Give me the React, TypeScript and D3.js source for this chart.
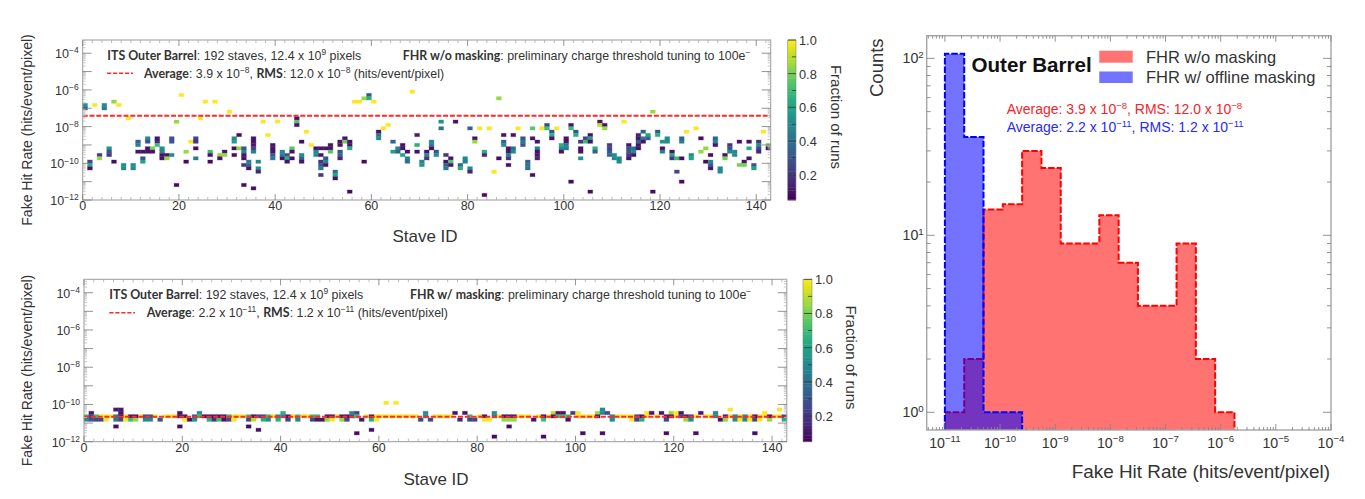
import * as d3 from "d3";
import { useEffect, useRef } from "react";

type Part = { t: string; bold?: boolean; sup?: boolean };
type Sel = d3.Selection<SVGGElement, unknown, null, undefined>;

// Fake hit rate map cells: [stave, rate bin, fraction of runs]
const unmaskedCells: [number, number, number][] = [
  [0,28,.55],[0,27,.3],[1,11,.25],[1,10,.65],[1,9,.1],[2,28,1],[3,13,.2],[3,12,.85],[4,28,.5],[4,27,.45],
  [5,15,.55],[5,14,.3],[5,13,.2],[6,29,.85],[6,11,.08],[7,28,1],[8,10,.5],[8,9,.5],[9,24,1],[10,10,.5],[10,9,.5],
  [11,17,.35],[11,16,.45],[11,14,.1],[12,14,.1],[12,12,.3],[12,11,.6],[13,18,.5],[13,17,.3],[13,15,.1],[13,14,.1],
  [14,15,.8],[14,14,.1],[15,18,.1],[15,17,.15],[15,16,.7],[16,15,.5],[16,14,.5],[16,13,.1],[16,12,.1],[17,13,.1],[17,12,.85],
  [18,18,.3],[18,17,.3],[18,13,.5],[19,23,.85],[19,4,.08],[20,31,1],[21,14,.85],[21,11,.08],[22,17,1],
  [23,18,.25],[23,17,.2],[23,15,.08],[23,12,.45],[24,24,1],[25,29,1],[26,14,.7],[26,13,.1],[26,11,.08],[27,29,1],
  [28,13,.85],[28,12,.1],[29,14,.1],[29,13,.85],[30,26,1],[31,18,.5],[31,17,.6],[31,15,.08],[31,13,.08],[32,19,.08],[32,15,.85],
  [33,15,.3],[33,14,.5],[33,13,.1],[33,12,.1],[33,10,.2],[33,4,.08],[34,11,.45],[34,10,.35],[34,9,.1],
  [35,18,.1],[35,17,.1],[35,16,.1],[35,15,.25],[35,14,.45],[35,3,.08],[36,11,.5],[36,9,.5],[36,8,.15],
  [37,23,1],[38,19,1],[39,16,.1],[39,15,.1],[39,14,.1],[39,13,.3],[39,12,.45],[40,23,1],[41,14,.5],[41,13,.45],[41,12,.1],
  [42,13,.3],[42,12,.65],[42,11,.1],[43,15,.75],[43,14,.1],[43,12,.1],[44,24,.1],[44,23,.75],[44,22,.1],
  [45,17,.08],[45,13,.5],[45,12,.35],[45,11,.1],[46,20,1],[47,16,1],[48,15,.1],[48,14,.5],[48,13,.5],
  [49,15,.1],[49,13,.1],[49,11,.2],[49,10,.3],[49,9,.45],[49,7,.2],[50,15,.1],[50,12,.3],[50,11,.5],[50,10,.1],
  [51,16,.1],[51,15,.1],[51,14,.75],[52,8,.4],[52,7,.6],[52,6,.1],[53,17,.1],[53,16,.1],[53,14,.3],[53,13,.35],[53,12,.15],
  [54,18,.1],[54,17,.8],[55,17,.1],[55,16,.1],[55,15,.65],[55,2,.08],[56,29,1],[57,29,1],[58,30,.85],[58,11,.08],
  [59,31,.3],[59,30,.65],[60,29,1],[61,20,.1],[61,19,.4],[61,18,.5],[62,21,1],[63,22,1],[64,17,.35],[64,14,.6],
  [65,15,.5],[65,14,.35],[66,16,.1],[66,15,.1],[66,13,.6],[67,14,.1],[67,12,.45],[67,11,.4],[68,32,1],
  [69,19,.12],[69,16,.65],[69,14,.1],[70,11,.5],[70,10,.55],[71,14,.1],[71,13,.5],[71,12,.2],[72,17,.5],[72,16,.45],[72,15,.1],
  [73,14,.3],[73,13,.5],[74,23,.55],[74,21,.4],[75,13,.2],[75,11,.1],[75,10,.35],[75,9,.45],[76,12,.1],[76,11,.75],[76,10,.1],
  [77,23,.1],[78,10,.35],[78,9,.65],[79,12,.5],[79,11,.45],[80,21,.35],[80,9,.5],[80,8,.15],[81,18,.1],[81,17,.85],
  [82,21,1],[83,14,.65],[83,13,.15],[83,1,.08],[84,21,1],[85,8,1],[86,30,.85],[86,12,.08],[87,19,.1],[87,17,.35],[87,16,.5],
  [88,15,.1],[88,14,.1],[88,13,.45],[88,12,.2],[88,10,.08],[89,19,.1],[89,15,.4],[89,14,.5],[90,21,1],
  [91,18,.3],[91,17,.45],[91,16,.3],[92,11,.35],[92,10,.4],[92,9,.4],[93,21,.75],[93,18,.1],[93,7,.08],
  [94,17,.1],[94,15,.45],[94,14,.1],[94,13,.1],[94,12,.15],[95,21,1],[96,22,.25],[96,21,.7],[97,20,.3],[97,19,.65],[97,18,.1],
  [98,21,1],[99,16,.65],[99,15,.5],[99,14,.1],[100,18,.1],[100,17,.1],[100,16,.45],[100,15,.45],[101,22,.1],[101,21,.7],[101,5,.08],
  [102,20,.3],[102,19,.65],[103,17,.2],[103,15,.1],[103,14,.1],[103,12,.55],[104,18,.25],[104,17,.7],
  [105,19,.1],[105,18,.6],[105,17,.1],[105,2,.08],[106,15,.65],[106,14,.35],[107,23,.1],[107,22,.9],[108,22,.1],[108,21,.85],
  [109,16,.2],[109,15,.25],[109,14,.3],[109,13,.35],[110,13,.5],[110,12,.5],[111,12,.5],[111,11,.5],[112,23,1],
  [113,16,.1],[113,15,.3],[113,14,.3],[113,13,.2],[113,12,.1],[114,15,.4],[114,14,.5],[114,13,.1],
  [115,19,.15],[115,18,.1],[115,17,.35],[115,16,.1],[115,15,.1],[116,20,.35],[116,18,.45],[116,17,.1],[117,19,.6],[117,18,.35],
  [118,26,.85],[118,2,.08],[119,20,.3],[119,19,.65],[120,17,.55],[120,15,.1],[120,14,.45],[121,18,.5],[121,17,.5],
  [122,14,.1],[122,13,.6],[122,12,.2],[123,12,.7],[123,8,.25],[124,18,.35],[124,17,.45],[124,12,.08],[124,5,.08],[125,20,1],
  [126,13,.5],[126,12,.6],[127,21,1],[128,18,.08],[128,14,.85],[129,15,.85],[129,11,.08],[130,13,.08],[130,11,.5],[130,10,.3],[130,9,.1],
  [131,18,.35],[131,17,.5],[131,16,.1],[132,9,.5],[132,8,.5],[133,13,.1],[133,12,.8],[134,16,.2],[134,15,.3],[134,14,.5],
  [135,14,.5],[135,13,.5],[136,17,.1],[136,10,.8],[137,11,.1],[137,10,.8],[138,17,.1],[138,15,.65],[138,12,.1],
  [139,10,.3],[139,9,.6],[140,17,.2],[140,16,.5],[140,15,.25],[140,14,.15],[141,20,1],[142,16,.8],[142,15,.1],
];

const maskedCells: [number, number, number][] = [
  [0,7,.7],[0,6,.5],[1,8,.1],[1,7,.25],[1,6,.3],[2,7,.7],[2,6,.25],[3,6,.25],[4,6,1],[6,9,.12],[6,7,.45],[6,6,.45],[6,4,.08],
  [7,9,.12],[7,8,.1],[7,7,.1],[7,6,.25],[8,6,1],[9,7,.1],[9,6,.7],[10,7,.1],[10,6,.85],[12,7,.3],[12,6,.5],[13,7,.3],[13,6,.5],[15,6,.3],
  [19,8,.1],[19,7,.1],[19,4,.08],[20,7,.1],[20,6,1],[21,6,.1],[22,7,.3],[22,6,.55],[23,8,.5],[23,7,.7],[24,7,.1],[25,7,.1],[25,6,.65],
  [26,7,.1],[26,6,.2],[27,7,.1],[27,6,.7],[28,7,.1],[28,6,.1],[29,7,.7],[29,6,.25],[30,6,1],[33,7,.7],[33,6,.25],[33,4,.08],
  [34,7,.1],[34,6,.9],[35,7,.25],[35,3,.08],[36,7,.25],[36,6,.65],[37,7,.7],[37,6,.5],[39,7,.5],[39,6,.65],[40,8,.65],[40,7,.5],
  [41,7,.1],[41,6,.25],[43,7,.7],[43,6,.5],[46,7,.7],[46,6,.25],[47,7,.7],[47,6,.1],[48,6,.1],[49,7,.1],[49,6,.85],[50,7,.1],[50,6,1],
  [52,7,.1],[52,6,.85],[53,7,.1],[53,6,.25],[54,8,.5],[54,7,.25],[55,8,.25],[55,7,.7],[55,2,.08],[56,6,.1],[58,7,.1],[58,6,.65],[58,3,.08],
  [59,6,1],[61,11,1],[63,11,1],[68,6,.25],[69,8,.5],[69,7,.5],[70,6,.25],[75,8,.1],[76,6,.15],[77,8,.1],[78,7,.7],[78,6,.25],[79,6,.25],
  [81,7,.1],[81,6,1],[82,6,1],[83,8,.5],[83,7,.45],[83,1,.08],[85,7,.1],[85,6,.85],[86,7,.1],[86,6,.85],[86,4,.08],[87,7,.1],[87,6,.85],
  [91,6,.1],[93,7,.1],[93,6,.7],[93,1,.08],[95,8,.9],[95,7,.1],[96,8,.1],[96,7,.7],[97,8,.1],[97,7,.7],[98,7,.7],[98,6,.1],[99,8,.2],
  [100,8,1],[101,2,.08],[104,8,.85],[104,7,.1],[105,9,.5],[105,8,.5],[105,2,.08],[106,8,.25],[107,7,.5],[107,6,.5],[111,6,1],
  [112,7,.25],[112,6,.25],[113,7,.1],[113,6,.65],[114,8,1],[115,8,.1],[117,8,.1],[118,7,.1],[118,6,.25],[118,2,.08],[119,8,.85],[119,7,.1],
  [120,8,1],[121,8,.1],[121,7,.25],[122,7,.1],[122,6,.85],[123,7,.25],[123,6,.5],[124,2,.08],[125,8,.1],[128,8,.5],[128,7,.5],
  [129,6,.1],[130,7,.1],[130,6,.85],[131,9,1],[132,7,.5],[132,6,.5],[133,6,1],[134,7,.5],[134,6,.5],[135,6,1],[136,7,.1],[136,6,.25],[136,2,.08],
  [137,6,1],[138,8,1],[139,7,.1],[139,6,.85],[141,9,1],[142,7,.25],[142,6,.65],
];

// staves sitting at full occupancy right on the average line
const maskedFullStaves = [3,4,5,8,11,14,16,17,18,30,31,32,38,42,44,45,51,57,59,60,61,62,63,64,65,66,67,71,72,73,74,80,84,88,89,90,92,94,100,101,102,103,108,109,110,111,114,116,120,124,126,127,131,133,135,137,138,140,141];

const stavesTicks = [0, 20, 40, 60, 80, 100, 120, 140];
const rateDecades = [-12, -10, -8, -6, -4];
const fractionTicks = [0.2, 0.4, 0.6, 0.8, 1.0];

// Histogram, log10 bins of 0.35 from 1e-11
const histStart = -11;
const histStep = 0.35;
const countsUnmasked = [1, 2, 14, 15, 30, 24, 9, 9, 13, 7, 4, 4, 9, 2, 1];
const countsMasked = [106, 36, 1, 1];
const histDecades = [-12, -11, -10, -9, -8, -7, -6, -5, -4];

const SANS = "'Liberation Sans', Arial, sans-serif";
const rowLog = 8.72 / 48;

function rich(g: Sel, x: number, y: number, parts: Part[], size: number, fill: string, anchor = "start") {
  const text = g.append("text").attr("x", x).attr("y", y).attr("font-family", SANS)
    .attr("font-size", size).attr("fill", fill).attr("text-anchor", anchor);
  let up = false;
  for (const p of parts) {
    const span = text.append("tspan").text(p.t);
    if (p.sup) {
      span.attr("dy", -size * 0.38).attr("font-size", size * 0.68);
      up = true;
    } else if (up) {
      span.attr("dy", size * 0.38);
      up = false;
    }
    if (p.bold) span.attr("font-family", "Lato").attr("font-weight", 700);
  }
}

interface PanelOpts {
  left: number; right: number; top: number; bottom: number;
  cells: [number, number, number][];
  average: number;
  line1a: Part[]; line1b: Part[]; line2: Part[];
  text1x: number; text1by: number; text1bx: number; dashX: [number, number]; dashY: number; text2x: number; text2y: number;
  barLeft: number; barRight: number; fracX: number; staveY: number; staveX: number;
}

function drawPanel(g: Sel, o: PanelOpts) {
  const color = d3.scaleSequential(d3.interpolateViridis).domain([0.05, 1]);
  const x = d3.scaleLinear().domain([0, 143]).range([o.left, o.right]);
  const y = d3.scaleLog().domain([1e-12, Math.pow(10, -3.28)]).range([o.bottom, o.top]);
  const rowY = (r: number) => y(Math.pow(10, -12 + r * rowLog));

  // faint same-colour edge: the original raster has a soft halo round every cell
  g.selectAll(".cell").data(o.cells).enter().append("rect")
    .attr("x", (d) => x(d[0])).attr("width", (d) => x(d[0] + 1) - x(d[0]))
    .attr("y", (d) => rowY(d[1] + 1)).attr("height", (d) => rowY(d[1]) - rowY(d[1] + 1))
    .attr("fill", (d) => color(d[2]))
    .attr("stroke", (d) => color(d[2])).attr("stroke-width", 0.9).attr("stroke-opacity", 0.35);

  // average
  g.append("line").attr("x1", o.left).attr("x2", o.right)
    .attr("y1", y(o.average)).attr("y2", y(o.average))
    .attr("stroke", "#ff2a2a").attr("stroke-width", 2).attr("stroke-dasharray", "5,1.8");

  // frame & ticks
  g.append("rect").attr("x", o.left).attr("y", o.top).attr("width", o.right - o.left).attr("height", o.bottom - o.top)
    .attr("fill", "none").attr("stroke", "#9a9a9a").attr("stroke-width", 1);
  const tick = (x1: number, y1: number, x2: number, y2: number, c: string) =>
    g.append("line").attr("x1", x1).attr("y1", y1).attr("x2", x2).attr("y2", y2).attr("stroke", c).attr("stroke-width", 0.8);
  for (let s = 0; s <= 142; s += 2) {
    const major = s % 20 === 0;
    const len = major ? 6 : 3;
    const c = major ? "#777" : "#aaa";
    tick(x(s), o.bottom, x(s), o.bottom - len, c);
    tick(x(s), o.top, x(s), o.top + len, c);
  }
  for (let e = -12; e <= -4; e++) {
    tick(o.left, y(Math.pow(10, e)), o.left + 9, y(Math.pow(10, e)), "#777");
    tick(o.right, y(Math.pow(10, e)), o.right - 9, y(Math.pow(10, e)), "#777");
    for (let m = 2; m <= 9; m++) {
      const v = m * Math.pow(10, e);
      if (v >= Math.pow(10, -3.28)) continue;
      tick(o.left, y(v), o.left + 3, y(v), "#bbb");
      tick(o.right, y(v), o.right - 3, y(v), "#bbb");
    }
  }
  for (const s of stavesTicks) {
    g.append("text").attr("x", x(s)).attr("y", o.bottom + 10).attr("text-anchor", "middle")
      .attr("font-family", SANS).attr("font-size", 12.5).attr("fill", "#333").text(s);
  }
  for (const e of rateDecades) {
    rich(g, o.left - 4, y(Math.pow(10, e)) + 5, [{ t: "10" }, { t: "\u2212" + Math.abs(e), sup: true }], 12.5, "#333", "end");
  }
  g.append("text").attr("x", o.staveX).attr("y", o.staveY).attr("text-anchor", "middle")
    .attr("font-family", SANS).attr("font-size", 17).attr("fill", "#333").text("Stave ID");
  g.append("text").attr("transform", `translate(32,${(o.top + o.bottom) / 2 + 10}) rotate(-90)`)
    .attr("text-anchor", "middle").attr("font-family", SANS).attr("font-size", 14).attr("fill", "#333")
    .text("Fake Hit Rate (hits/event/pixel)");

  // annotations
  rich(g, o.text1x, o.text1by, o.line1a, 12.4, "#333");
  rich(g, o.text1bx, o.text1by, o.line1b, 12.4, "#333");
  g.append("line").attr("x1", o.dashX[0]).attr("x2", o.dashX[1]).attr("y1", o.dashY).attr("y2", o.dashY)
    .attr("stroke", "#ff2a2a").attr("stroke-width", 1.5).attr("stroke-dasharray", "4.2,1.8");
  rich(g, o.text2x, o.text2y, o.line2, 12.4, "#333");

  // colour bar
  const bar = d3.scaleLinear().domain([0.05, 1]).range([o.bottom, o.top]);
  const steps = d3.range(0.05, 1, 0.95 / 50);
  g.selectAll(".band").data(steps).enter().append("rect")
    .attr("x", o.barLeft).attr("width", o.barRight - o.barLeft)
    .attr("y", (d) => bar(d + 0.95 / 50)).attr("height", (d) => bar(d) - bar(d + 0.95 / 50) + 0.4)
    .attr("fill", (d) => color(d + 0.95 / 100));
  g.append("rect").attr("x", o.barLeft).attr("y", o.top).attr("width", o.barRight - o.barLeft).attr("height", o.bottom - o.top)
    .attr("fill", "none").attr("stroke", "#888").attr("stroke-width", 0.6);
  for (const f of d3.range(0.1, 1.01, 0.1)) {
    tick(o.barRight, bar(f), o.barRight - (Math.round(f * 10) % 2 === 0 ? 8 : 4), bar(f), "#333");
  }
  for (const f of fractionTicks) {
    g.append("text").attr("x", o.barRight + 3).attr("y", bar(f) + 5).attr("font-family", SANS)
      .attr("font-size", 12.8).attr("fill", "#333").text(f.toFixed(1));
  }
  g.append("text").attr("transform", `translate(${o.fracX},${(o.top + o.bottom) / 2 - 3}) rotate(90)`)
    .attr("text-anchor", "middle").attr("font-family", SANS).attr("font-size", 15).attr("fill", "#333")
    .text("Fraction of runs");
}

function drawHistogram(g: Sel) {
  const left = 926.7, right = 1331, top = 35.7, bottom = 430;
  const x = d3.scaleLinear().domain([-11.33, -4]).range([left, right]);
  const y = d3.scaleLog().domain([Math.pow(10, -0.1), Math.pow(10, 2.128)]).range([bottom, top]);
  const line = d3.line();

  const outline = (counts: number[]) => {
    const pts: [number, number][] = [[x(histStart), bottom]];
    counts.forEach((c, i) => {
      pts.push([x(histStart + i * histStep), y(c)]);
      pts.push([x(histStart + (i + 1) * histStep), y(c)]);
    });
    pts.push([x(histStart + counts.length * histStep), bottom]);
    return line(pts) as string;
  };

  for (const [counts, c] of [[countsUnmasked, "#ff0000"], [countsMasked, "#0000ff"]] as [number[], string][]) {
    g.append("path").attr("d", outline(counts) + "Z").attr("fill", c).attr("fill-opacity", 0.55);
    g.append("path").attr("d", outline(counts)).attr("fill", "none").attr("stroke", c)
      .attr("stroke-width", 2).attr("stroke-dasharray", "6.5,2");
  }

  g.append("rect").attr("x", left).attr("y", top).attr("width", right - left).attr("height", bottom - top)
    .attr("fill", "none").attr("stroke", "#a6a6a6").attr("stroke-width", 1.4);
  const tick = (x1: number, y1: number, x2: number, y2: number) =>
    g.append("line").attr("x1", x1).attr("y1", y1).attr("x2", x2).attr("y2", y2).attr("stroke", "#888").attr("stroke-width", 0.9);
  for (const e of histDecades) {
    if (e >= -11) {
      tick(x(e), bottom, x(e), bottom - 6);
      tick(x(e), top, x(e), top + 6);
      rich(g, x(e), 447.5, [{ t: "10" }, { t: "\u2212" + Math.abs(e), sup: true }], 14.2, "#333", "middle");
    }
    if (e === -4) continue;
    for (let m = 2; m <= 9; m++) {
      const v = e + Math.log10(m);
      if (v < -11.33) continue;
      tick(x(v), bottom, x(v), bottom - 3);
      tick(x(v), top, x(v), top + 3);
    }
  }
  for (const e of [0, 1, 2]) {
    tick(left, y(Math.pow(10, e)), left + 8, y(Math.pow(10, e)));
    tick(right, y(Math.pow(10, e)), right - 8, y(Math.pow(10, e)));
    rich(g, left - 3, y(Math.pow(10, e)) + 5, [{ t: "10" }, { t: String(e), sup: true }], 14.2, "#333", "end");
    if (e === 2) continue;
    for (let m = 2; m <= 9; m++) {
      const v = m * Math.pow(10, e);
      tick(left, y(v), left + 4, y(v));
      tick(right, y(v), right - 4, y(v));
    }
  }

  g.append("text").attr("x", 1330).attr("y", 478).attr("text-anchor", "end").attr("font-family", SANS)
    .attr("font-size", 18.9).attr("fill", "#333").text("Fake Hit Rate (hits/event/pixel)");
  g.append("text").attr("transform", "translate(883,97) rotate(-90)").attr("font-family", SANS)
    .attr("font-size", 18.5).attr("fill", "#333").text("Counts");
  g.append("text").attr("x", 971.5).attr("y", 71.5).attr("font-family", SANS).attr("font-weight", 700)
    .attr("font-size", 20.6).attr("fill", "#111").text("Outer Barrel");

  g.append("rect").attr("x", 1099.3).attr("y", 50.7).attr("width", 33.4).attr("height", 12).attr("fill", "#ff7373");
  g.append("rect").attr("x", 1099.3).attr("y", 71.5).attr("width", 33.4).attr("height", 11.5).attr("fill", "#7373ff");
  g.append("text").attr("x", 1146).attr("y", 63).attr("font-family", SANS).attr("font-size", 16.5).attr("fill", "#333").text("FHR w/o masking");
  g.append("text").attr("x", 1146).attr("y", 83).attr("font-family", SANS).attr("font-size", 16.5).attr("fill", "#333").text("FHR w/ offline masking");

  rich(g, 1006.7, 114, [{ t: "Average: 3.9 x 10" }, { t: "\u22128", sup: true }, { t: ", RMS: 12.0 x 10" }, { t: "\u22128", sup: true }], 14, "#f5242c");
  rich(g, 1006.7, 132, [{ t: "Average: 2.2 x 10" }, { t: "\u221211", sup: true }, { t: ", RMS: 1.2 x 10" }, { t: "\u221211", sup: true }], 14, "#2a2af5");
}

export default function App() {
  const ref = useRef<SVGSVGElement>(null);

  useEffect(() => {
    if (!ref.current) return;
    const svg = d3.select(ref.current);
    svg.selectAll("*").remove();

    const masked: [number, number, number][] = [
      ...maskedFullStaves.map((s) => [s, 7, 1] as [number, number, number]),
      ...maskedCells,
    ];

    drawPanel(svg.append("g") as unknown as Sel, {
      left: 82.7, right: 770.7, top: 40, bottom: 200,
      cells: unmaskedCells, average: 3.9e-8,
      line1a: [{ t: "ITS Outer Barrel", bold: true }, { t: ": 192 staves, 12.4 x 10" }, { t: "9", sup: true }, { t: " pixels" }],
      line1b: [{ t: "FHR w/o masking", bold: true }, { t: ": preliminary charge threshold tuning to 100e" }, { t: "\u2212", sup: true }],
      line2: [{ t: "Average", bold: true }, { t: ": 3.9 x 10" }, { t: "\u22128", sup: true }, { t: ", " }, { t: "RMS", bold: true }, { t: ": 12.0 x 10" }, { t: "\u22128", sup: true }, { t: " (hits/event/pixel)" }],
      text1x: 107.3, text1by: 60, text1bx: 402.7, dashX: [107, 133], dashY: 73.3, text2x: 144, text2y: 77.7,
      barLeft: 787.7, barRight: 796, fracX: 831, staveY: 242, staveX: 425,
    });

    drawPanel(svg.append("g") as unknown as Sel, {
      left: 84, right: 786.8, top: 279.3, bottom: 441.7,
      cells: masked, average: 2.2e-11,
      line1a: [{ t: "ITS Outer Barrel", bold: true }, { t: ": 192 staves, 12.4 x 10" }, { t: "9", sup: true }, { t: " pixels" }],
      line1b: [{ t: "FHR w/ masking", bold: true }, { t: ": preliminary charge threshold tuning to 100e" }, { t: "\u2212", sup: true }],
      line2: [{ t: "Average", bold: true }, { t: ": 2.2 x 10" }, { t: "\u221211", sup: true }, { t: ", " }, { t: "RMS", bold: true }, { t: ": 1.2 x 10" }, { t: "\u221211", sup: true }, { t: " (hits/event/pixel)" }],
      text1x: 109.3, text1by: 299, text1bx: 410, dashX: [109.3, 135], dashY: 312.7, text2x: 146.7, text2y: 316.7,
      barLeft: 803, barRight: 812, fracX: 846, staveY: 485, staveX: 436,
    });

    drawHistogram(svg.append("g") as unknown as Sel);
  }, []);

  return (
    <svg ref={ref} width={1365} height={499} style={{ position: "absolute", left: 0, top: 0, background: "#fff" }} />
  );
}
